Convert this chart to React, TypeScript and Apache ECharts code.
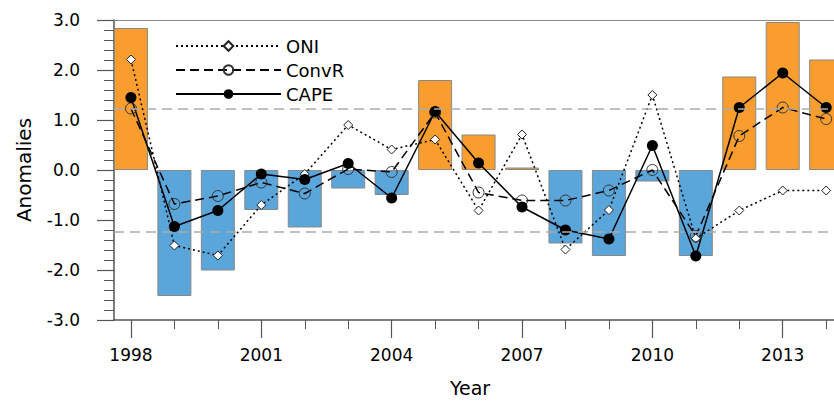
import React, { useEffect, useRef } from "react";
import * as echarts from "echarts";

const YEARS = [1998, 1999, 2000, 2001, 2002, 2003, 2004, 2005, 2006, 2007, 2008, 2009, 2010, 2011, 2012, 2013, 2014];
const BARS = [2.84, -2.52, -2.01, -0.8, -1.15, -0.37, -0.5, 1.8, 0.71, 0.05, -1.47, -1.72, -0.23, -1.72, 1.87, 2.96, 2.21];
const ONI = [2.21, -1.51, -1.71, -0.7, -0.08, 0.9, 0.41, 0.61, -0.81, 0.71, -1.59, -0.8, 1.5, -1.37, -0.81, -0.41, -0.41];
const CONVR = [1.23, -0.68, -0.52, -0.25, -0.47, 0.02, -0.04, 1.15, -0.45, -0.61, -0.61, -0.41, 0.0, -1.32, 0.68, 1.25, 1.02];
const CAPE = [1.45, -1.13, -0.81, -0.08, -0.19, 0.13, -0.56, 1.17, 0.14, -0.74, -1.2, -1.38, 0.49, -1.72, 1.25, 1.94, 1.25];
const MAJOR_YEARS = [1998, 2001, 2004, 2007, 2010, 2013];
const THRESHOLD = 1.23;

const FONT = "DejaVu Sans";
const ORANGE = "#F89D2E";
const BLUE = "#5AA6DB";
const AXIS = "#555";
const X_MIN = 1997.61;
const X_MAX = 2014.18;

export default function App() {
  const ref = useRef<HTMLDivElement>(null);
  useEffect(() => {
    if (!ref.current) return;
    const chart = echarts.init(ref.current, undefined, { renderer: "svg" });
    const pairs = (arr: number[]) => YEARS.map((y, i) => [y, arr[i]]);
    chart.setOption({
      animation: false,
      backgroundColor: "#fff",
      grid: { left: 114, top: 20, bottom: 84, right: 0 },
      legend: {
        data: ["ONI", "ConvR", "CAPE"],
        orient: "vertical",
        left: 170,
        top: 32,
        itemWidth: 105,
        itemHeight: 12,
        itemGap: 6,
        selectedMode: false,
        textStyle: { fontFamily: FONT, fontSize: 18, color: "#000" },
      },
      xAxis: [
        {
          type: "value",
          min: X_MIN,
          max: X_MAX,
          position: "bottom",
          name: "Year",
          nameLocation: "middle",
          nameGap: 58,
          nameTextStyle: { fontFamily: FONT, fontSize: 19, color: "#000", padding: [0, 8, 0, 0] },
          axisLine: { show: true, onZero: false, lineStyle: { color: AXIS, width: 1.5 } },
          axisTick: { show: true, length: 18, customValues: MAJOR_YEARS, lineStyle: { color: AXIS, width: 1.2 } },
          axisLabel: {
            customValues: MAJOR_YEARS,
            margin: 26,
            fontFamily: FONT,
            fontSize: 17,
            color: "#000",
            formatter: (v: number) => String(v),
          },
          splitLine: { show: false },
        },
        {
          type: "value",
          min: X_MIN,
          max: X_MAX,
          position: "bottom",
          axisLine: { show: false, onZero: false },
          axisTick: { show: true, length: 9, customValues: YEARS, lineStyle: { color: AXIS, width: 1 } },
          axisLabel: { show: false },
          splitLine: { show: false },
        },
        {
          type: "value",
          min: X_MIN,
          max: X_MAX,
          position: "top",
          axisLine: { show: true, onZero: false, lineStyle: { color: "#888", width: 1.2 } },
          axisTick: { show: false },
          axisLabel: { show: false },
          splitLine: { show: false },
        },
      ],
      yAxis: {
        type: "value",
        min: -3,
        max: 3,
        interval: 1,
        name: "Anomalies",
        nameLocation: "middle",
        nameGap: 80,
        nameRotate: 90,
        nameTextStyle: { fontFamily: FONT, fontSize: 20, color: "#000" },
        axisLine: { show: true, onZero: false, lineStyle: { color: AXIS, width: 1.5 } },
        axisTick: { show: true, length: 17, lineStyle: { color: AXIS, width: 1.2 } },
        minorTick: { show: true, splitNumber: 5, length: 10, lineStyle: { color: AXIS, width: 1 } },
        axisLabel: {
          margin: 34,
          fontFamily: FONT,
          fontSize: 17,
          color: "#000",
          formatter: (v: number) => v.toFixed(1),
        },
        splitLine: { show: false },
      },
      series: [
        {
          name: "Anomaly",
          type: "bar",
          xAxisIndex: 0,
          data: pairs(BARS),
          barWidth: 34,
          itemStyle: {
            color: (p: any) => (p.value[1] >= 0 ? ORANGE : BLUE),
            borderColor: "#888",
            borderWidth: 1,
          },
          markLine: {
            silent: true,
            symbol: "none",
            label: { show: false },
            lineStyle: { color: "#aaa", type: [10, 6], width: 1.5 },
            data: [{ yAxis: THRESHOLD }, { yAxis: -THRESHOLD }],
          },
        },
        {
          name: "ONI",
          type: "line",
          xAxisIndex: 0,
          data: pairs(ONI),
          symbol: "diamond",
          symbolSize: 9,
          lineStyle: { color: "#000", width: 1.5, type: [2, 3] },
          itemStyle: { color: "#fff", borderColor: "#222", borderWidth: 1 },
        },
        {
          name: "ConvR",
          type: "line",
          xAxisIndex: 0,
          data: pairs(CONVR),
          symbol: "circle",
          symbolSize: 11,
          lineStyle: { color: "#000", width: 1.5, type: [9, 5] },
          itemStyle: { color: "rgba(0,0,0,0)", borderColor: "#333", borderWidth: 1 },
        },
        {
          name: "CAPE",
          type: "line",
          xAxisIndex: 0,
          data: pairs(CAPE),
          symbol: "circle",
          symbolSize: 11,
          lineStyle: { color: "#000", width: 1.5 },
          itemStyle: { color: "#000" },
        },
      ],
    });
    return () => chart.dispose();
  }, []);
  return <div ref={ref} style={{ position: "absolute", left: 0, top: 0, width: 834, height: 404 }} />;
}
